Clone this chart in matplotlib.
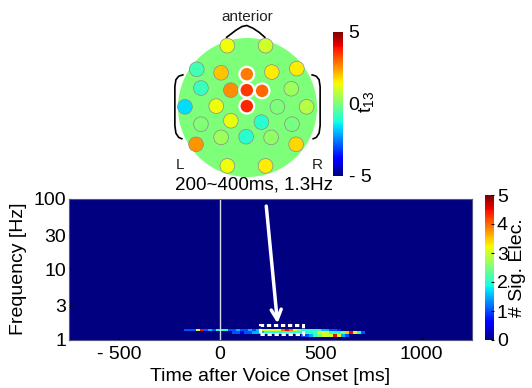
import numpy as np
import matplotlib
matplotlib.use('Agg')
import matplotlib.pyplot as plt
from matplotlib.patches import Circle, Rectangle
from matplotlib.cm import ScalarMappable
from matplotlib.colors import Normalize

plt.rcParams['font.family'] = ['Liberation Sans', 'DejaVu Sans']
plt.rcParams['mathtext.fontset'] = 'custom'
plt.rcParams['mathtext.rm'] = 'Liberation Sans'

# ---- topography: electrode positions (unit head radius) and t values ----
elec_x = [-0.29, 0.26, -0.73, -0.38, -0.01, 0.35, 0.71, -0.67, -0.24, -0.01,
          0.21, 0.63, -0.90, -0.45, -0.01, 0.43, 0.85, -0.67, -0.24, 0.20,
          0.64, -0.74, -0.38, -0.02, 0.34, 0.70, -0.29, 0.26]
elec_y = [0.89, 0.89, 0.55, 0.50, 0.48, 0.51, 0.56, 0.28, 0.25, 0.25,
          0.24, 0.27, 0.01, 0.02, 0.02, 0.01, 0.01, -0.24, -0.19, -0.21,
          -0.24, -0.53, -0.43, -0.42, -0.43, -0.53, -0.84, -0.84]
elec_t = [1.4, 1.0, -0.7, 2.0, 2.8, 1.6, 1.6, -0.8, 2.6, 3.5,
          3.0, 0.4, -1.6, 1.4, 3.7, 0.0, 0.7, 0.05, 1.3, -1.0,
          -0.05, 2.5, 0.4, -1.0, 0.25, 1.8, 1.4, 1.6]
elec_sig = [4, 9, 10, 14]

# ---- time-frequency map: number of significant electrodes ----
freq_edges = [1.0, 1.1, 1.2, 1.3, 1.4, 100.0]
band_t0 = -200
band_dt = 20
row_11 = [0, 0, 0, 0, 0, 0, 0, 0, 0, 0,
          0, 0, 0, 0, 0, 0, 0, 0, 0, 0,
          0, 0, 0, 0, 0, 0, 0, 0, 0, 0,
          1, 1, 1.5, 2, 2.5, 3, 3, 3, 4.5, 3,
          1.5, 1, 0, 0, 0, 0, 0]
row_12 = [0, 0, 0, 0, 0, 0, 0, 0, 0, 0,
          0, 0, 0, 1, 1, 0.5, 1, 1, 1.5, 1.5,
          1.5, 2, 2, 2, 2, 2, 2, 2, 2, 2,
          2, 2, 2, 2.2, 3, 3, 3, 2, 2, 2,
          2.5, 3.5, 4.5, 3, 2, 1, 0]
row_13 = [0, 1, 1, 1, 3, 4.5, 1, 1.5, 1, 2,
          2, 2, 1, 1, 1.5, 1, 1, 1.5, 1, 1.5,
          3, 3, 3, 3.3, 3, 4, 4.5, 4, 3, 2.5,
          2, 2, 2, 2, 2, 1.5, 1.5, 1, 1, 0.8,
          0, 0, 0, 0, 0, 0, 0]

sel_t = [200, 410]
sel_f = [1.205, 1.59]
arrow_from = (229, 78)
arrow_to = (285, 1.69)

W, H = 532, 388


def px_rect(x0, y0, x1, y1):
    return [x0 / W, 1 - y1 / H, (x1 - x0) / W, (y1 - y0) / H]


fig = plt.figure(figsize=(W / 100, H / 100), dpi=100)
cmap = plt.get_cmap('jet')

# topo plot
tnorm = Normalize(-5, 5)
ax_t = fig.add_axes(px_rect(165, 5, 330, 190))
ax_t.set_xlim(-1.187, 1.187)
ax_t.set_ylim(-1.187, 1.475)
ax_t.axis('off')
ax_t.add_patch(Circle((0, 0), 1, color=cmap(tnorm(0)), lw=0))
ax_t.plot([-0.30, -0.17, -0.08, -0.01, 0.08, 0.17, 0.25],
          [1.01, 1.11, 1.165, 1.18, 1.14, 1.08, 1.01], color='k', lw=1.2)
ear_x = np.array([-0.93, -0.99, -1.03, -1.045, -1.045, -1.03, -0.99, -0.945])
ear_y = np.array([0.47, 0.45, 0.40, 0.30, -0.26, -0.37, -0.43, -0.45])
ax_t.plot(ear_x, ear_y, color='k', lw=1.2)
ax_t.plot(-ear_x, ear_y, color='k', lw=1.2)
edges = ['white' if i in elec_sig else '#8c8c8c' for i in range(len(elec_t))]
lws = [1.6 if i in elec_sig else 0.5 for i in range(len(elec_t))]
ax_t.scatter(elec_x, elec_y, c=elec_t, cmap=cmap, norm=tnorm, s=112,
             edgecolors=edges, linewidths=lws, zorder=3)
ax_t.text(0, 1.30, 'anterior', ha='center', va='center', fontsize=11, color='#222222')
ax_t.text(-0.97, -0.83, 'L', ha='center', va='center', fontsize=11, color='#222222')
ax_t.text(1.01, -0.83, 'R', ha='center', va='center', fontsize=11, color='#222222')

cax1 = fig.add_axes(px_rect(333, 32, 343, 176))
cb1 = fig.colorbar(ScalarMappable(norm=tnorm, cmap=cmap), cax=cax1, ticks=[-5, 0, 5])
cb1.ax.set_yticklabels(['- 5', '0', '5'])
cb1.ax.tick_params(labelsize=14, length=0, pad=4)
cb1.outline.set_visible(False)
fig.text(367 / W, 1 - 102 / H, r'$\mathregular{t_{13}}$', rotation=90,
         fontsize=14, ha='center', va='center')

fig.text(253.5 / W, 1 - 185 / H, '200~400ms, 1.3Hz', ha='center', va='center',
         fontsize=13.5)

# time-frequency map
time_edges = np.arange(-760, 1261, 20)
Z = np.zeros((len(freq_edges) - 1, len(time_edges) - 1))
i0 = int((band_t0 - time_edges[0]) / band_dt)
for r, row in enumerate([row_11, row_12, row_13]):
    Z[r + 1, i0:i0 + len(row)] = row

ax = fig.add_axes(px_rect(69, 198.5, 472, 339.5))
mesh = ax.pcolormesh(time_edges, freq_edges, Z, cmap=cmap, vmin=0, vmax=5,
                     shading='flat')
ax.set_yscale('log')
ax.set_xlim(-750, 1250)
ax.set_ylim(1, 100)
ax.set_yticks([1, 3, 10, 30, 100])
ax.set_yticklabels(['1', '3', '10', '30', '100'])
ax.yaxis.set_minor_locator(matplotlib.ticker.NullLocator())
ax.set_xticks([-500, 0, 500, 1000])
ax.set_xticklabels(['- 500', '0', '500', '1000'])
ax.tick_params(direction='in', length=2, labelsize=14)
ax.tick_params(axis='y', pad=2)
ax.tick_params(axis='x', pad=5)
for s in ax.spines.values():
    s.set_color('#555588')
    s.set_linewidth(0.8)
ax.axvline(0, color='#d8d8e8', lw=1)
ax.add_patch(Rectangle((sel_t[0], sel_f[0]), sel_t[1] - sel_t[0], sel_f[1] - sel_f[0],
                       fill=False, ec='white', lw=2.2, ls=(0, (1.4, 0.9))))
ax.annotate('', xy=arrow_to, xytext=arrow_from,
            arrowprops=dict(arrowstyle='->', color='white', lw=2.5,
                            mutation_scale=18, shrinkA=0, shrinkB=0))
ax.set_xlabel('Time after Voice Onset [ms]', fontsize=14, labelpad=3)
ax.set_ylabel('Frequency [Hz]', fontsize=14, labelpad=5)

cax2 = fig.add_axes(px_rect(485, 195, 494, 340))
cb2 = fig.colorbar(mesh, cax=cax2, ticks=range(6))
cb2.ax.tick_params(labelsize=14, length=2, direction='in', pad=2)
cb2.outline.set_visible(False)
cb2.set_label('# Sig. Elec.', fontsize=14, labelpad=1)

fig.savefig('out.png', dpi=100)
